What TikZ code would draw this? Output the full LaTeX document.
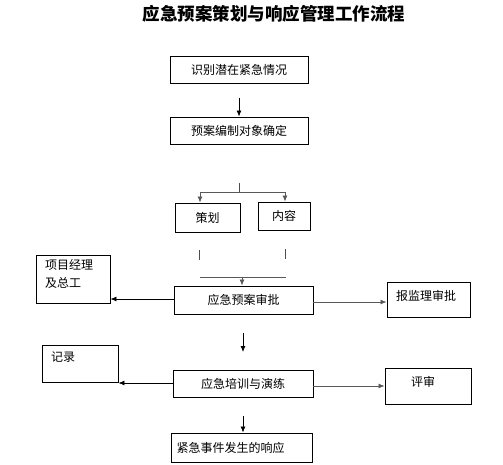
\documentclass[tikz,border=0pt]{standalone}
\usepackage{fontspec}
\newfontfamily\cjk{Noto Sans CJK SC}
\usetikzlibrary{arrows.meta}
\begin{document}
\begin{tikzpicture}[x=1pt,y=-1pt,
  box/.style={draw,line width=0.9pt,inner sep=0pt,font=\cjk\fontsize{12}{14}\selectfont},
  txt/.style={inner sep=0pt,font=\cjk\fontsize{12}{18}\selectfont,align=left},
  arr/.style={line width=0.8pt,-{Latex[length=6pt,width=5pt]}},
  garr/.style={arr,draw=black!65},
  gline/.style={line width=0.8pt,draw=black!65},
  tick/.style={line width=0.7pt,draw=black!70}]
\useasboundingbox (0,0) rectangle (503,465);
\node[inner sep=0pt,font=\cjk\bfseries\fontsize{17.5}{20}\selectfont] (title) at (274,14) {应急预案策划与响应管理工作流程};
\node[box,minimum width=138pt,minimum height=27pt] (b1) at (239,69.5) {识别潜在紧急情况};
\node[box,minimum width=138pt,minimum height=27pt] (b2) at (239,130.5) {预案编制对象确定};
\node[box,minimum width=65pt,minimum height=29pt] (ch) at (207.5,217.5) {策划};
\node[box,minimum width=52pt,minimum height=28pt] (nr) at (284,216) {内容};
\node[box,minimum width=139pt,minimum height=28pt] (sp) at (243.5,300) {应急预案审批};
\node[box,minimum width=74pt,minimum height=48pt] (pm) at (73,279) {};
\node[txt,anchor=north west] (pmt) at (45,259) {项目经理\\及总工};
\node[box,minimum width=83pt,minimum height=35pt] (jl) at (428.5,299.5) {};
\node[txt,anchor=north west] (jlt) at (396,290) {报监理审批};
\node[box,minimum width=140pt,minimum height=27pt] (px) at (243,383.5) {应急培训与演练};
\node[box,minimum width=76pt,minimum height=37pt] (jil) at (80,363.5) {};
\node[txt,anchor=north west] (jilt) at (51,352) {记录};
\node[box,minimum width=86pt,minimum height=36pt] (ps) at (428,386) {};
\node[txt] (pst) at (423,382) {评审};
\node[box,minimum width=141pt,minimum height=29pt,align=left,text width=131pt] (xy) at (242,447.5) {紧急事件发生的响应};
% coordinates
\coordinate (a1s) at (239,98);
\coordinate (t1) at (239,183);
\coordinate (t1b) at (239,192);
\coordinate (hl) at (200,192);
\coordinate (hr) at (285,192);
\coordinate (k1a) at (199,250);
\coordinate (k1b) at (199,260);
\coordinate (k2a) at (285,249);
\coordinate (k2b) at (285,259);
\coordinate (ml) at (200,277);
\coordinate (mr) at (286,277);
\coordinate (mm) at (242,277);
\coordinate (c1) at (243,333);
\coordinate (c2) at (243,352);
\coordinate (d1) at (243,416);
% connectors
\draw[arr] (a1s) -- (b2.north-|a1s);
\draw[tick] (t1) -- (t1b);
\draw[gline] (hl) -- (hr);
\draw[garr] (hl) -- (ch.north-|hl);
\draw[garr] (hr) -- (nr.north-|hr);
\draw[tick] (k1a) -- (k1b);
\draw[tick] (k2a) -- (k2b);
\draw[gline] (ml) -- (mr);
\draw[garr] (mm) -- (sp.north-|mm);
\draw[arr] (sp.west|-0,299) -- (pm.east|-0,299);
\draw[garr] (sp.east|-0,302) -- (jl.west|-0,302);
\draw[arr] (c1) -- (c2);
\draw[arr] (px.west|-0,383) -- (jil.east|-0,383);
\draw[garr] (px.east|-0,386) -- (ps.west|-0,386);
\draw[arr] (d1) -- (xy.north-|d1);
\end{tikzpicture}
\end{document}
